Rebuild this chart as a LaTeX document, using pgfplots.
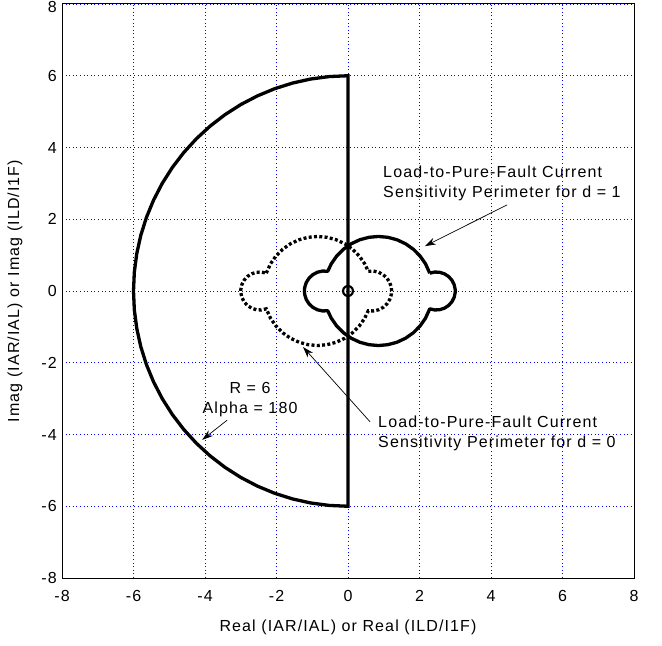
\documentclass[border=0pt]{standalone}
\usepackage{pgfplots}
\pgfplotsset{compat=1.18}
\usepackage{fontspec}
\setmainfont[LetterSpace=7]{Liberation Sans}
\usetikzlibrary{arrows.meta}

\begin{document}
\begin{tikzpicture}
\begin{axis}[
  scale only axis, width=572pt, height=574pt,
  xmin=-8, xmax=8, ymin=-8, ymax=8,
  xtick={-8,-6,-4,-2,0,2,4,6,8}, ytick={-8,-6,-4,-2,0,2,4,6,8},
  xticklabels={-8,-6,-4,-2,0,2,4,6,8},
  yticklabels={-8,-6,-4,-2,0,2,4,6,\raisebox{-9pt}[0pt][0pt]{8}},
  major tick length=0pt,
  grid=major,
  grid style={blue, line width=0.8pt, dash pattern=on 1pt off 2.6pt},
  axis line style={black, line width=1pt},
  tick label style={font=\fontsize{16}{19}\selectfont, inner sep=0pt},
  xticklabel style={anchor=north, yshift=-12pt},
  yticklabel style={anchor=east, xshift=-5pt},
  xlabel={Real (IAR/IAL) or Real (ILD/I1F)},
  ylabel={Imag (IAR/IAL) or Imag (ILD/I1F)},
  label style={font=\fontsize{16}{19}\selectfont},
  xlabel style={at={(axis description cs:0.5,-0.0854)}, anchor=center},
  ylabel style={at={(axis description cs:-0.0822,0.5)}, anchor=center},
]

% perimeter for d = 0 (dotted)
\addplot[black, line width=3.3pt, dash pattern=on 3pt off 2.3pt] coordinates {
(-2.2864,0.4973) (-2.1664,0.76) (-2.0143,0.9771) (-1.8271,1.1643) (-1.61,1.3164) (-1.3699,1.4283) (-1.1139,1.4969) (-0.85,1.52) (-0.5861,1.4969) (-0.3301,1.4283) (-0.09,1.3164) (0.1271,1.1643) (0.3143,0.9771) (0.4664,0.76) (0.5671,0.5497)
(0.7107,0.5559) (0.8528,0.5244) (0.9821,0.4571) (1.0894,0.3587) (1.1677,0.2358) (1.2115,0.0969) (1.22,0) (1.2115,-0.0969) (1.1677,-0.2358) (1.0894,-0.3587) (0.9821,-0.4571) (0.8528,-0.5244) (0.7107,-0.5559) (0.5671,-0.5497)
(0.4664,-0.76) (0.3143,-0.9771) (0.1271,-1.1643) (-0.09,-1.3164) (-0.3301,-1.4283) (-0.5861,-1.4969) (-0.85,-1.52) (-1.1139,-1.4969) (-1.3699,-1.4283) (-1.61,-1.3164) (-1.8271,-1.1643) (-2.0143,-0.9771) (-2.1664,-0.76) (-2.2864,-0.4973)
(-2.4238,-0.528) (-2.562,-0.5219) (-2.694,-0.4803) (-2.8107,-0.406) (-2.9042,-0.304) (-2.968,-0.1813) (-2.998,-0.0462) (-3.0,0) (-2.998,0.0462) (-2.968,0.1813) (-2.9042,0.304) (-2.8107,0.406) (-2.694,0.4803) (-2.562,0.5219) (-2.4238,0.528) (-2.2864,0.4973)
};

% perimeter for d = 1 (solid)
\addplot[black, line width=3.3pt, line join=round] coordinates {
(2.2864,0.4973) (2.1664,0.76) (2.0143,0.9771) (1.8271,1.1643) (1.61,1.3164) (1.3699,1.4283) (1.1139,1.4969) (0.85,1.52) (0.5861,1.4969) (0.3301,1.4283) (0.09,1.3164) (-0.1271,1.1643) (-0.3143,0.9771) (-0.4664,0.76) (-0.5671,0.5497)
(-0.7107,0.5559) (-0.8528,0.5244) (-0.9821,0.4571) (-1.0894,0.3587) (-1.1677,0.2358) (-1.2115,0.0969) (-1.22,0) (-1.2115,-0.0969) (-1.1677,-0.2358) (-1.0894,-0.3587) (-0.9821,-0.4571) (-0.8528,-0.5244) (-0.7107,-0.5559) (-0.5671,-0.5497)
(-0.4664,-0.76) (-0.3143,-0.9771) (-0.1271,-1.1643) (0.09,-1.3164) (0.3301,-1.4283) (0.5861,-1.4969) (0.85,-1.52) (1.1139,-1.4969) (1.3699,-1.4283) (1.61,-1.3164) (1.8271,-1.1643) (2.0143,-0.9771) (2.1664,-0.76) (2.2864,-0.4973)
(2.4238,-0.528) (2.562,-0.5219) (2.694,-0.4803) (2.8107,-0.406) (2.9042,-0.304) (2.968,-0.1813) (2.998,-0.0462) (3.0,0) (2.998,0.0462) (2.968,0.1813) (2.9042,0.304) (2.8107,0.406) (2.694,0.4803) (2.562,0.5219) (2.4238,0.528) (2.2864,0.4973)
};

% small loop at the origin
\addplot[black, line width=2.2pt] coordinates {
(0.14,0) (0.1212,0.07) (0.07,0.1212) (0,0.14) (-0.07,0.1212) (-0.1212,0.07) (-0.14,0) (-0.1212,-0.07) (-0.07,-0.1212) (0,-0.14) (0.07,-0.1212) (0.1212,-0.07) (0.14,0)
};

% R = 6, alpha = 180 characteristic
\addplot[black, line width=3.3pt, line join=miter, line cap=rect] coordinates {
(0,6) (-0.5229,5.9771) (-1.0419,5.9089) (-1.5529,5.7956) (-2.0521,5.6382) (-2.5357,5.4378) (-3,5.1962) (-3.4415,4.9149) (-3.8567,4.5963) (-4.2426,4.2426) (-4.5963,3.8567) (-4.9149,3.4415) (-5.1962,3) (-5.4378,2.5357) (-5.6382,2.0521) (-5.7956,1.5529) (-5.9089,1.0419) (-5.9771,0.5229) (-6,0)
(-5.9771,-0.5229) (-5.9089,-1.0419) (-5.7956,-1.5529) (-5.6382,-2.0521) (-5.4378,-2.5357) (-5.1962,-3) (-4.9149,-3.4415) (-4.5963,-3.8567) (-4.2426,-4.2426) (-3.8567,-4.5963) (-3.4415,-4.9149) (-3,-5.1962) (-2.5357,-5.4378) (-2.0521,-5.6382) (-1.5529,-5.7956) (-1.0419,-5.9089) (-0.5229,-5.9771) (0,-6) (0,6)
};

% annotations
\draw[black, line width=0.7pt, -{Stealth[length=11pt,width=7pt]}] (axis cs:4.45,2.40) -- (axis cs:2.15,1.25);
\draw[black, line width=0.7pt, -{Stealth[length=11pt,width=7pt]}] (axis cs:0.62,-3.65) -- (axis cs:-1.26,-1.56);
\draw[black, line width=0.7pt, -{Stealth[length=11pt,width=7pt]}] (axis cs:-3.38,-3.60) -- (axis cs:-4.08,-4.15);

\node[anchor=west, align=left, inner sep=0pt, font=\fontsize{16}{20}\selectfont]
  at (axis cs:0.98,3.01) {Load-to-Pure-Fault Current\\Sensitivity Perimeter for d = 1};
\node[anchor=west, align=left, inner sep=0pt, font=\fontsize{16}{20}\selectfont]
  at (axis cs:0.84,-3.96) {Load-to-Pure-Fault Current\\Sensitivity Perimeter for d = 0};
\node[align=center, inner sep=0pt, font=\fontsize{16}{20}\selectfont]
  at (axis cs:-2.74,-3.04) {R = 6\\Alpha = 180};
\end{axis}
\pgfresetboundingbox
\path[use as bounding box] ([xshift=-62pt,yshift=-67pt]current axis.south west) rectangle ([xshift=28pt,yshift=4pt]current axis.north east);
\end{tikzpicture}
\end{document}
